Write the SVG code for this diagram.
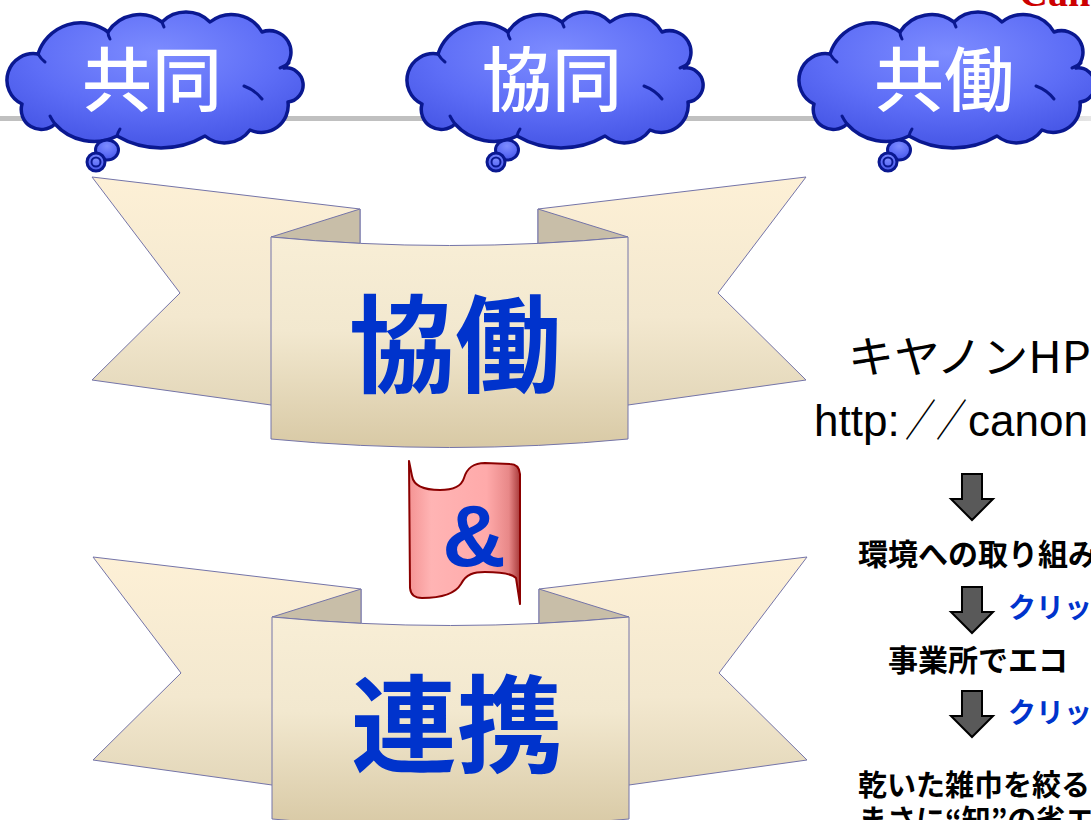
<svg xmlns="http://www.w3.org/2000/svg" xmlns:xlink="http://www.w3.org/1999/xlink" width="1091" height="820" viewBox="0 0 1091 820">
  <style>
    .cloud-body { fill: url(#cloudFill); stroke: #0a1890; stroke-width: 3.5; stroke-linejoin: round; }
    .cloud-crease { fill: none; stroke: #0a1890; stroke-width: 3; stroke-linecap: round; }
    .bubble { fill: url(#cloudFill); stroke: #0a1890; stroke-width: 3; }
    .cloud-label { font-family: "Noto Sans CJK JP", "Noto Sans CJK SC", sans-serif; font-size: 70px; font-weight: 500; fill: #ffffff; text-anchor: middle; }
    .tail { fill: url(#tailFill); stroke: #7474a8; stroke-width: 1; }
    .fold { fill: #c8bea8; stroke: #7474a8; stroke-width: 1; }
    .panel { fill: url(#panelFill); stroke: #7474a8; stroke-width: 1; }
    .ribbon-label { font-family: "Noto Sans CJK JP", "Noto Sans CJK SC", sans-serif; font-size: 106px; font-weight: 700; fill: #0033cc; text-anchor: middle; }
    .arrow { fill: #595959; stroke: #000000; stroke-width: 2; stroke-linejoin: miter; }
    .heading { font-family: "Liberation Sans", "Noto Sans CJK JP", sans-serif; fill: #000000; font-size: 44px; }
    .step { font-family: "Noto Sans CJK JP", sans-serif; font-weight: 700; fill: #000000; }
    .click { font-family: "Noto Sans CJK JP", sans-serif; font-weight: 700; fill: #0033cc; font-size: 28px; }
  </style>
  <defs>
    <radialGradient id="cloudFill" cx="0.5" cy="0.3" r="0.7">
      <stop offset="0" stop-color="#7d8cff"/>
      <stop offset="0.6" stop-color="#5d6df6"/>
      <stop offset="1" stop-color="#4656e6"/>
    </radialGradient>
    <linearGradient id="tailFill" x1="0" y1="0" x2="0" y2="1">
      <stop offset="0" stop-color="#fdf0d6"/>
      <stop offset="0.6" stop-color="#f3e8cf"/>
      <stop offset="1" stop-color="#e2d6b8"/>
    </linearGradient>
    <linearGradient id="panelFill" x1="0" y1="0" x2="0" y2="1">
      <stop offset="0" stop-color="#f8eed6"/>
      <stop offset="0.45" stop-color="#f2e8cf"/>
      <stop offset="1" stop-color="#d8c9a5"/>
    </linearGradient>
    <linearGradient id="flagFill" x1="0" y1="0" x2="1" y2="0">
      <stop offset="0" stop-color="#f49494"/>
      <stop offset="0.2" stop-color="#ffb4b4"/>
      <stop offset="0.7" stop-color="#ffaaaa"/>
      <stop offset="0.9" stop-color="#e88888"/>
      <stop offset="1" stop-color="#a83a3a"/>
    </linearGradient>
    <linearGradient id="ruleFill" x1="0" y1="0" x2="1" y2="0">
      <stop offset="0" stop-color="#c0c0c0"/>
      <stop offset="0.9" stop-color="#c0c0c0"/>
      <stop offset="1" stop-color="#e6e6e6"/>
    </linearGradient>

    <!-- thought cloud with its two trailing bubbles -->
    <g id="cloudShape">
      <path class="cloud-body" d="M 22,104 A 26.5,26.5 0 0 1 38,54 A 45,45 0 0 1 108,32 A 37.5,37.5 0 0 1 162,22 A 34,34 0 0 1 210,22 A 35,35 0 0 1 262,32 A 21.5,21.5 0 0 1 284,68 A 17,17 0 0 1 288,102 A 27,27 0 0 1 250,130 A 31.5,31.5 0 0 1 205,136 A 87,87 0 0 1 117,136 A 52,52 0 0 1 55,124 A 20,20 0 0 1 22,104 Z"/>
      <path class="cloud-crease" d="M 244,86 Q 255,90 262,99"/>
      <path class="cloud-crease" d="M 280,68 Q 285,66 289,63"/>
      <path class="cloud-crease" d="M 38,54 Q 41,59 45,62"/>
      <path class="cloud-crease" d="M 108,32 Q 108,36 110,39"/>
      <path class="cloud-crease" d="M 162,22 Q 163,25 164,27"/>
      <path class="cloud-crease" d="M 117,136 Q 118,132 120,129"/>
      <path class="cloud-crease" d="M 55,124 Q 52,120 50,116"/>
      <ellipse class="bubble" cx="107" cy="150" rx="11.5" ry="10"/>
      <circle class="bubble" cx="96" cy="162" r="9"/>
      <circle cx="96" cy="162" r="4.5" fill="none" stroke="#0a1890" stroke-width="2"/>
    </g>

    <!-- folded banner shape -->
    <g id="ribbonShape">
      <path class="tail" d="M 92,177 L 360,209 L 360,410 L 271,405 L 92,380 L 180,293 Z"/>
      <path class="tail" d="M 806,177 L 538,209 L 538,410 L 628,405 L 806,380 L 718,293 Z"/>
      <path class="fold" d="M 360,209 L 271,237 Q 315.3,241.2 360,243.4 Z"/>
      <path class="fold" d="M 538,209 L 628,237 Q 582.7,241.2 538,243.4 Z"/>
      <path class="panel" d="M 271,237 Q 449.5,254 628,237 L 628,439 Q 449.5,456 271,439 Z"/>
    </g>

    <!-- downward block arrow, tip at origin -->
    <path id="downArrow" class="arrow" d="M -10,-46 L 10,-46 L 10,-21 L 21,-21 L 0,0 L -21,-21 L -10,-21 Z"/>
  </defs>

  <rect width="1091" height="820" fill="#ffffff"/>

  <!-- header rule and corporate mark -->
  <rect x="0" y="116" width="1091" height="5" fill="url(#ruleFill)"/>
  <text x="1019" y="6" font-family="Liberation Serif, serif" font-weight="700" font-size="40" fill="#cc0000">Canon</text>

  <g id="cloud-kyodo1">
    <use xlink:href="#cloudShape"/>
    <text class="cloud-label" x="152" y="106">共同</text>
  </g>
  <g id="cloud-kyodo2" transform="translate(400,0)">
    <use xlink:href="#cloudShape"/>
    <text class="cloud-label" x="152" y="106">協同</text>
  </g>
  <g id="cloud-kyodo3" transform="translate(792,0)">
    <use xlink:href="#cloudShape"/>
    <text class="cloud-label" x="152" y="106">共働</text>
  </g>

  <g id="ribbon-kyodo">
    <use xlink:href="#ribbonShape"/>
    <text class="ribbon-label" x="455" y="384">協働</text>
  </g>

  <g id="flag-and">
    <path d="M 409,461 L 410,588 Q 411,598 422,598 C 440,598 455,594 461,584 C 466,574 474,572 485,572 C 500,572 512,574 516,578 L 520,604 L 520,474 Q 519,464 510,464 L 485,463 C 473,463 467,468 464,478 C 461,488 450,490 440,490 C 428,490 414,488 412,476 Z" fill="url(#flagFill)" stroke="#8b0000" stroke-width="2" stroke-linejoin="round"/>
    <text x="474" y="566" font-family="Liberation Sans, sans-serif" font-weight="700" font-size="88" fill="#0033cc" text-anchor="middle">&amp;</text>
  </g>

  <g id="ribbon-renkei" transform="translate(1,380)">
    <use xlink:href="#ribbonShape"/>
    <text class="ribbon-label" x="456" y="384">連携</text>
  </g>

  <g id="steps">
    <text x="848" y="373" font-family="Noto Sans CJK JP, sans-serif" font-size="44" fill="#000000" textLength="243" lengthAdjust="spacingAndGlyphs">キヤノンHP</text>
    <text class="heading" x="814" y="436">http:</text>
    <text class="heading" x="905" y="436" textLength="62" lengthAdjust="spacingAndGlyphs">／／</text>
    <text class="heading" x="968" y="436">canon</text>
    <text class="step" x="858" y="565" font-size="30">環境への取り組み</text>
    <text class="click" x="1008" y="618">クリック</text>
    <text class="step" x="888" y="671" font-size="30">事業所でエコ</text>
    <text class="click" x="1008" y="723">クリック</text>
    <text class="step" x="858" y="796" font-size="29">乾いた雑巾を絞る</text>
    <text class="step" x="858" y="831" font-size="29">まさに“知”の省エネ</text>
  </g>

  <g id="connectors">
    <use xlink:href="#downArrow" x="972" y="520"/>
    <use xlink:href="#downArrow" x="972" y="633"/>
    <use xlink:href="#downArrow" x="972" y="737"/>
  </g>
</svg>
